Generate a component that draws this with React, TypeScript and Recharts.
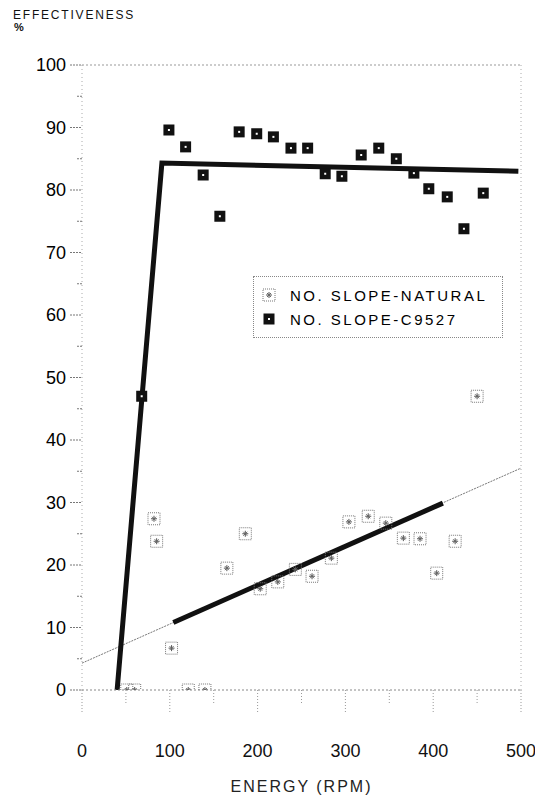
import React from "react";
import {
  ComposedChart,
  Scatter,
  Line,
  XAxis,
  YAxis,
  ReferenceLine,
  Legend,
} from "recharts";

// NO. SLOPE-NATURAL (energy rpm, effectiveness %)
const naturalX = [51, 60, 82, 85, 102, 121, 140, 165, 186, 203, 223, 243, 262, 284, 304, 326, 346, 366, 385, 404, 425, 450];
const naturalY = [0, 0, 27.4, 23.8, 6.7, 0, 0, 19.5, 25.0, 16.2, 17.3, 19.3, 18.2, 21.1, 26.9, 27.8, 26.7, 24.3, 24.2, 18.7, 23.8, 47.0];

// NO. SLOPE-C9527
const c9527X = [68, 99, 118, 138, 157, 179, 199, 218, 238, 257, 277, 296, 318, 338, 358, 378, 395, 416, 435, 457];
const c9527Y = [47, 89.6, 86.9, 82.4, 75.8, 89.3, 89.0, 88.5, 86.7, 86.7, 82.6, 82.2, 85.6, 86.7, 85.0, 82.7, 80.2, 78.9, 73.8, 79.5];

// fitted lines
const naturalTrendX = [0, 500];
const naturalTrendY = [4.3, 35.5];
const naturalBoldX = [104, 411];
const naturalBoldY = [10.8, 29.9];
const c9527FitX = [40, 91, 497];
const c9527FitY = [0, 84.3, 83.0];

const yTicks = [0, 5, 10, 15, 20, 25, 30, 35, 40, 45, 50, 55, 60, 65, 70, 75, 80, 85, 90, 95, 100];
const xTicks = [0, 50, 100, 150, 200, 250, 300, 350, 400, 450, 500];

const zip = (xs: number[], ys: number[]) => xs.map((x, i) => ({ x, y: ys[i] }));

const naturalData = zip(naturalX, naturalY);
const c9527Data = zip(c9527X, c9527Y);
const naturalTrend = zip(naturalTrendX, naturalTrendY);
const naturalBold = zip(naturalBoldX, naturalBoldY);
const c9527Fit = zip(c9527FitX, c9527FitY);

const FONT = "'Liberation Sans', Arial, sans-serif";

function NaturalMarker({ cx, cy }: any) {
  if (cx == null || cy == null) return null;
  return (
    <g>
      <rect x={cx - 6} y={cy - 6} width={12} height={12} fill="none" stroke="#777" strokeWidth={1} strokeDasharray="1 1" />
      <line x1={cx - 3} y1={cy} x2={cx + 3} y2={cy} stroke="#555" strokeWidth={1} />
      <line x1={cx} y1={cy - 3} x2={cx} y2={cy + 3} stroke="#555" strokeWidth={1} />
      <line x1={cx - 2} y1={cy - 2} x2={cx + 2} y2={cy + 2} stroke="#666" strokeWidth={1} />
      <line x1={cx - 2} y1={cy + 2} x2={cx + 2} y2={cy - 2} stroke="#666" strokeWidth={1} />
    </g>
  );
}

function C9527Marker({ cx, cy }: any) {
  if (cx == null || cy == null) return null;
  return (
    <g>
      <rect x={cx - 5.5} y={cy - 5.5} width={11} height={11} fill="#111" />
      <rect x={cx - 1} y={cy - 1} width={2} height={2} fill="#fff" />
    </g>
  );
}

function YTick({ x, y, payload }: any) {
  const v = payload.value;
  const major = v % 10 === 0;
  return (
    <g>
      <line x1={major ? x - 12 : x - 5} y1={y} x2={x} y2={y} stroke="#777" strokeDasharray="2 1" />
      {major && (
        <text x={x - 16} y={y + 6} textAnchor="end" fontSize={18} fontFamily={FONT} fill="#000">
          {v}
        </text>
      )}
    </g>
  );
}

function XTick({ x, y, payload }: any) {
  const v = payload.value;
  const major = v % 100 === 0;
  return (
    <g>
      <line x1={x} y1={y} x2={x} y2={y + (major ? 22 : 14)} stroke="#999" strokeDasharray="1 2" />
      {major && (
        <text x={x} y={y + 67} textAnchor="middle" fontSize={18} fontFamily={FONT} fill="#111">
          {v}
        </text>
      )}
    </g>
  );
}

function LegendBox() {
  const row = { display: "flex", alignItems: "center", height: 24 } as const;
  const txt = { fontSize: 15, letterSpacing: 2.5, color: "#000", marginLeft: 14 } as const;
  return (
    <div style={{ border: "1px dotted #888", padding: "6px 8px", width: 232, fontFamily: FONT }}>
      <div style={row}>
        <svg width={14} height={14}>
          <NaturalMarker cx={7} cy={7} />
        </svg>
        <span style={txt}>NO. SLOPE-NATURAL</span>
      </div>
      <div style={row}>
        <svg width={14} height={14}>
          <C9527Marker cx={7} cy={7} />
        </svg>
        <span style={txt}>NO. SLOPE-C9527</span>
      </div>
    </div>
  );
}

export default function App() {
  return (
    <div style={{ position: "absolute", left: 0, top: 0, width: 535, height: 807, background: "#fff", fontFamily: FONT }}>
      <div style={{ position: "absolute", left: 13, top: 8, fontSize: 12, letterSpacing: 1.8, color: "#111" }}>
        EFFECTIVENESS
      </div>
      <div style={{ position: "absolute", left: 14, top: 21, fontSize: 11, fontWeight: "bold", color: "#111" }}>%</div>
      <ComposedChart width={535} height={807} margin={{ top: 65, right: 14, bottom: 0, left: 0 }}>
        <XAxis
          type="number"
          dataKey="x"
          domain={[0, 500]}
          ticks={xTicks}
          interval={0}
          allowDataOverflow
          height={117}
          tickSize={0}
          tickMargin={0}
          tick={<XTick />}
          axisLine={{ stroke: "#888", strokeDasharray: "2 2" }}
          label={{
            value: "ENERGY (RPM)",
            position: "insideBottom",
            offset: 15,
            style: { fontSize: 16, letterSpacing: 2, fontFamily: FONT, fill: "#222" },
          }}
        />
        <YAxis
          type="number"
          dataKey="y"
          domain={[0, 100]}
          ticks={yTicks}
          interval={0}
          allowDataOverflow
          width={82}
          tickSize={0}
          tickMargin={0}
          tick={<YTick />}
          axisLine={{ stroke: "#aaa", strokeDasharray: "1 3" }}
        />
        <ReferenceLine y={100} stroke="#999" strokeDasharray="2 2" />
        <ReferenceLine x={500} stroke="#aaa" strokeDasharray="1 3" />
        <Line data={naturalTrend} dataKey="y" type="linear" stroke="#777" strokeWidth={1} strokeDasharray="2 1" dot={false} activeDot={false} isAnimationActive={false} legendType="none" />
        <Line data={naturalBold} dataKey="y" type="linear" stroke="#111" strokeWidth={5} dot={false} activeDot={false} isAnimationActive={false} legendType="none" />
        <Line data={c9527Fit} dataKey="y" type="linear" stroke="#111" strokeWidth={5} dot={false} activeDot={false} isAnimationActive={false} legendType="none" />
        <Scatter name="NO. SLOPE-NATURAL" data={naturalData} shape={<NaturalMarker />} isAnimationActive={false} />
        <Scatter name="NO. SLOPE-C9527" data={c9527Data} shape={<C9527Marker />} isAnimationActive={false} />
        <Legend
          layout="vertical"
          align="center"
          verticalAlign="middle"
          wrapperStyle={{ left: 253, top: 276, width: 250 }}
          content={() => <LegendBox />}
        />
      </ComposedChart>
    </div>
  );
}
